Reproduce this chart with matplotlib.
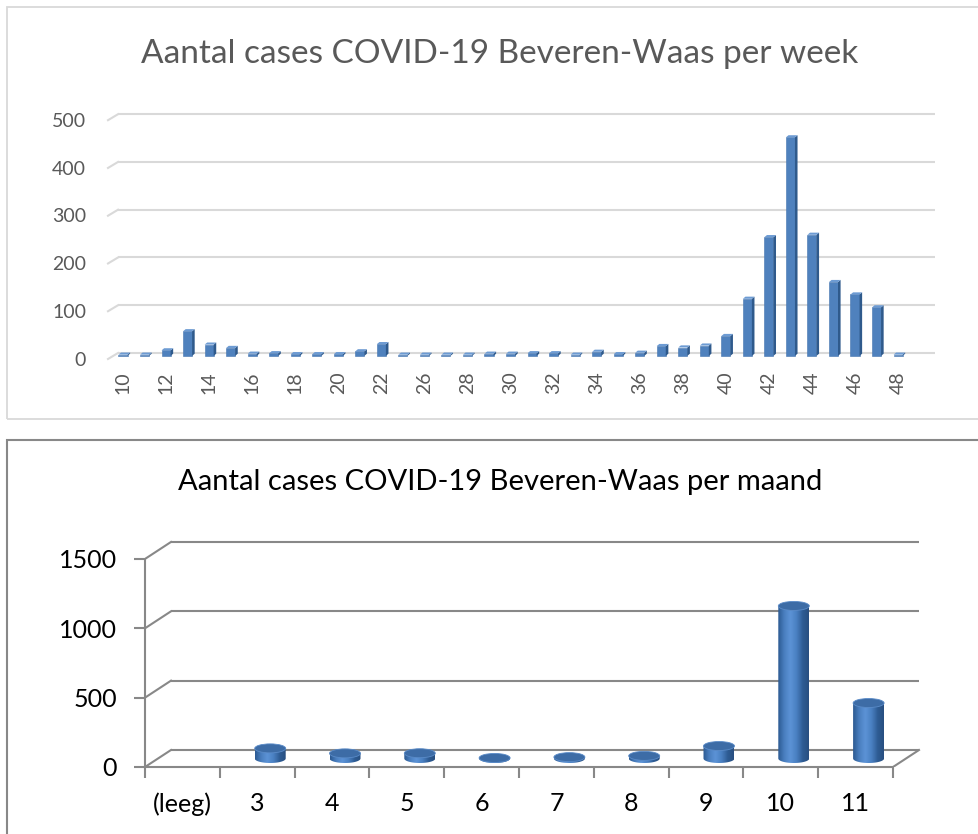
# Aantal cases COVID-19 Beveren-Waas: per week (3D bars) and per maand (3D cylinders)
import matplotlib
matplotlib.use("Agg")
import matplotlib.pyplot as plt
import numpy as np
from matplotlib.patches import Rectangle, Ellipse, PathPatch
from matplotlib.path import Path
from matplotlib.collections import PolyCollection
from matplotlib.colors import LinearSegmentedColormap
from matplotlib.transforms import ScaledTranslation

plt.rcParams['font.family'] = ['Lato', 'DejaVu Sans']

# Data
weeks = [10, 11, 12, 13, 14, 15, 16, 17, 18, 19, 20, 21, 22, 23,
         26, 27, 28, 29, 30, 31, 32, 33, 34, 35, 36, 37, 38, 39, 40,
         41, 42, 43, 44, 45, 46, 47, 48]
week_cases = [1, 1, 10, 50, 22, 15, 3, 4, 2, 2, 2, 8, 23, 1,
              1, 1, 1, 3, 3, 4, 4, 1, 7, 2, 5, 19, 16, 20, 40,
              118, 247, 456, 252, 153, 127, 100, 1]
week_ticks = [0, 100, 200, 300, 400, 500]

months = ['(leeg)', '3', '4', '5', '6', '7', '8', '9', '10', '11']
month_cases = [0, 73, 37, 38, 4, 10, 19, 90, 1100, 400]
month_ticks = [0, 500, 1000, 1500]

W, H = 979, 834
fig = plt.figure(figsize=(W / 100, H / 100), dpi=100)
fig.patch.set_facecolor('white')


def px_rect(l, t, r, b):
    return [l / W, 1 - b / H, (r - l) / W, (b - t) / H]


# panel frames
fig.patches.append(Rectangle((7 / W, 1 - 419 / H), 1.2, (419 - 7) / H,
                             transform=fig.transFigure, fill=False,
                             ec='#d9d9d9', lw=1.3))
fig.patches.append(Rectangle((7 / W, -0.1), 1.2, 0.1 + (H - 440) / H,
                             transform=fig.transFigure, fill=False,
                             ec='#888888', lw=1.5))

# ---------------- top chart: per week ----------------
grey = '#595959'
fig.text(500 / W, 1 - 63 / H, 'Aantal cases COVID-19 Beveren-Waas per week',
         ha='center', va='baseline', fontsize=24, color=grey)

sx, ox = 21.53, 123      # px per category, px of first category
sy, oy = 0.4776, 353     # px per case, px of zero line
l, t, r, b = 100, 85, 965, 362
ax = fig.add_axes(px_rect(l, t, r, b))
ax.set_xlim((l - ox) / sx, (r - ox) / sx)
ax.set_ylim((oy - b) / sy, (oy - t) / sy)
for s in ax.spines.values():
    s.set_visible(False)

gx0, gx1, slx = (118 - ox) / sx, (935 - ox) / sx, (108 - ox) / sx
sld = 6 / sy
for g in week_ticks:
    ax.plot([gx0, gx1], [g, g], color='#d9d9d9', lw=1.5, zorder=1,
            solid_capstyle='butt')
    ax.plot([slx, gx0], [g - sld, g], color='#d9d9d9', lw=1.5, zorder=1)

x = np.arange(len(weeks))
v = np.array(week_cases, dtype=float)
w, dx, dy, b0 = 0.42, 0.12, 4.5, -6.0
ax.bar(x, v - dy - b0, bottom=b0, width=w, color='#4f81bd',
       edgecolor='#4475b0', lw=0.4, zorder=3)
side = [[(xi + w / 2, b0), (xi + w / 2 + dx, b0 + dy),
         (xi + w / 2 + dx, vi), (xi + w / 2, vi - dy)] for xi, vi in zip(x, v)]
top = [[(xi - w / 2, vi - dy), (xi + w / 2, vi - dy),
        (xi + w / 2 + dx, vi), (xi - w / 2 + dx, vi)] for xi, vi in zip(x, v)]
ax.add_collection(PolyCollection(side, facecolors='#2f5a8c', edgecolors='none', zorder=4))
ax.add_collection(PolyCollection(top, facecolors='#6d9bd3', edgecolors='none', zorder=4))

ax.set_yticks(week_ticks)
ax.set_yticklabels([str(g) for g in week_ticks])
ax.tick_params(axis='y', length=0, pad=10, labelsize=14, labelcolor=grey)
for lab in ax.get_yticklabels():
    lab.set_transform(lab.get_transform() + ScaledTranslation(0, -4 / 72, fig.dpi_scale_trans))
ax.set_xticks(x[::2])
ax.set_xticklabels([str(k) for k in weeks[::2]], rotation=90)
ax.tick_params(axis='x', length=0, pad=7, labelsize=14, labelcolor=grey)

# ---------------- bottom chart: per maand ----------------
fig.text(500 / W, 1 - 490 / H, 'Aantal cases COVID-19 Beveren-Waas per maand',
         ha='center', va='baseline', fontsize=21, color='black')

mx, mox = 74.8, 145
my, moy = 0.1387, 767
l, t, r, b = 145, 525, 965, 767
ax2 = fig.add_axes(px_rect(l, t, r, b))
n = len(months)
Dx, Dy = 26 / mx, 17 / my
axis_col = '#888888'

for g in month_ticks:
    ax2.plot([Dx, n + Dx], [g + Dy, g + Dy], color=axis_col, lw=1.5, zorder=1,
             solid_capstyle='butt')
    ax2.plot([0, Dx], [g, g + Dy], color=axis_col, lw=1.5, zorder=1)
ax2.plot([n, n + Dx], [0, Dy], color=axis_col, lw=1.5, zorder=1)

cmap = LinearSegmentedColormap.from_list(
    'cyl', ['#2c5a92', '#4a7fc0', '#5c93d6', '#4a80c2', '#2f5d95', '#284f80'])
grad = np.linspace(0, 1, 64).reshape(1, -1)
rw = 15.5 / mx
ery = 4.5 / my
for i, val in enumerate(month_cases):
    if val <= 0:
        continue
    cx = i + 0.5 + Dx / 2
    yb = Dy / 2
    yt = val + Dy / 2
    # body: rectangle plus lower half of the base ellipse
    th = np.linspace(np.pi, 2 * np.pi, 40)
    verts = [(cx - rw, yt)] + [(cx + rw * np.cos(a), yb + ery * np.sin(a)) for a in th] + [(cx + rw, yt), (cx - rw, yt)]
    body = PathPatch(Path(verts), facecolor='none', edgecolor='none', zorder=3)
    ax2.add_patch(body)
    im = ax2.imshow(grad, extent=[cx - rw, cx + rw, yb - ery, yt], aspect='auto',
                    cmap=cmap, zorder=3, interpolation='bilinear')
    im.set_clip_path(body)
    ax2.add_patch(Ellipse((cx, yt), 2 * rw, 2 * ery, facecolor='#3d6ca6',
                          edgecolor='#5a8bc8', lw=0.6, zorder=4))

ax2.set_xlim(0, (r - mox) / mx)
ax2.set_ylim(0, (moy - t) / my)
for s in ['top', 'right']:
    ax2.spines[s].set_visible(False)
for s in ['left', 'bottom']:
    ax2.spines[s].set_color(axis_col)
    ax2.spines[s].set_linewidth(1.5)
ax2.spines['left'].set_bounds(0, month_ticks[-1])
ax2.spines['bottom'].set_bounds(0, n)

ax2.set_yticks(month_ticks)
ax2.set_yticklabels([str(g) for g in month_ticks])
ax2.tick_params(axis='y', length=8, width=1.5, color=axis_col, pad=12, labelsize=18)
ax2.set_xticks(np.arange(n + 1))
ax2.set_xticklabels([''] * (n + 1))
ax2.set_xticks(np.arange(n) + 0.5, minor=True)
ax2.set_xticklabels(months, minor=True)
ax2.tick_params(axis='x', which='major', length=8, width=1.5, color=axis_col)
ax2.tick_params(axis='x', which='minor', length=0, pad=18, labelsize=18)
ax2.patch.set_visible(False)

fig.savefig('out.png', dpi=100)
